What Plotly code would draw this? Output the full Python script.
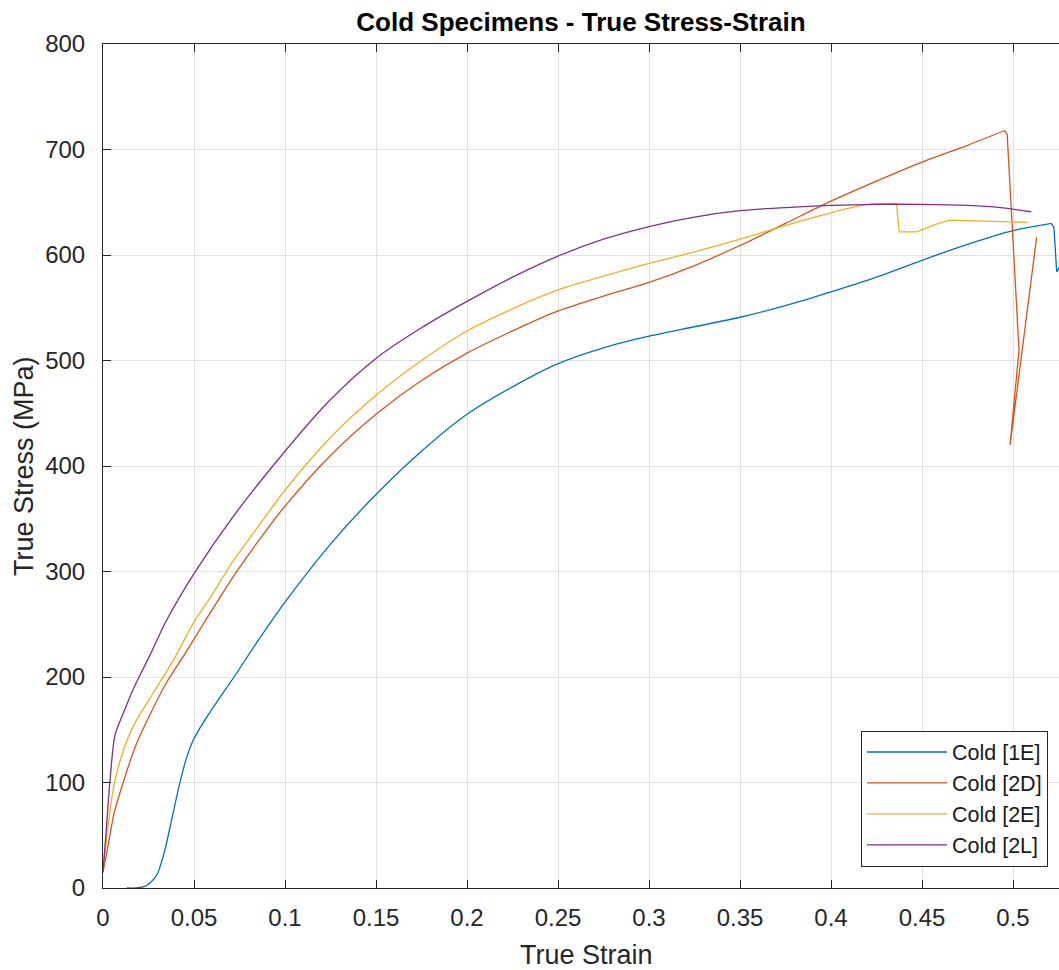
import plotly.graph_objects as go

# ---- data ----
strain_1E = [0.013, 0.018, 0.022, 0.026, 0.030, 0.034, 0.038, 0.042, 0.046, 0.049, 0.052, 0.057,
             0.064, 0.072, 0.085, 0.1, 0.125, 0.15, 0.175, 0.2, 0.225, 0.25, 0.275, 0.3, 0.325,
             0.35, 0.375, 0.4, 0.425, 0.45, 0.475, 0.5, 0.515, 0.521, 0.5225, 0.524, 0.526]
stress_1E = [0, 0, 1, 5, 14, 36, 67, 98, 124, 138, 148, 162,
             180, 200, 234, 271, 326, 373, 414, 449, 475, 497, 512, 523, 532,
             541, 552, 565, 579, 595, 610, 623, 628, 630, 626, 584, 590]

strain_2D = [0, 0.003, 0.006, 0.012, 0.018, 0.026, 0.035, 0.045, 0.055, 0.0715, 0.085, 0.1,
             0.125, 0.15, 0.175, 0.2, 0.225, 0.25, 0.275, 0.3, 0.325, 0.35, 0.375, 0.4, 0.425,
             0.45, 0.475, 0.4955, 0.4968, 0.5033, 0.4984, 0.513]
stress_2D = [15, 42, 70, 105, 135, 165, 195, 222, 250, 295, 328, 362,
             410, 449, 481, 507, 528, 547, 561, 574, 590, 609, 630, 651, 670,
             688, 704, 718, 714, 510, 420, 617]

strain_2E = [0, 0.003, 0.006, 0.01, 0.0165, 0.028, 0.039, 0.05, 0.06, 0.0715, 0.085, 0.1,
             0.125, 0.15, 0.175, 0.2, 0.225, 0.25, 0.275, 0.3, 0.325, 0.35, 0.375, 0.4, 0.42,
             0.436, 0.4375, 0.447, 0.456, 0.465, 0.49, 0.508]
stress_2E = [15, 62, 97, 124, 153, 186, 217, 252, 278, 310, 342, 377,
             427, 467, 500, 528, 549, 567, 580, 592, 603, 615, 628, 640, 648,
             649, 622, 622, 628, 633, 632, 631]

strain_2L = [0, 0.002, 0.004, 0.0066, 0.011, 0.0165, 0.0256, 0.035, 0.05, 0.0715, 0.1, 0.125,
             0.15, 0.175, 0.2, 0.225, 0.25, 0.275, 0.3, 0.325, 0.35, 0.375, 0.4, 0.425, 0.45,
             0.475, 0.493, 0.51]
stress_2L = [15, 60, 105, 145, 165, 188, 220, 254, 298, 352, 414, 463,
             502, 531, 556, 579, 599, 615, 627, 636, 642, 645, 647, 648, 648,
             647, 645, 641]

series_names = ["Cold [1E]", "Cold [2D]", "Cold [2E]", "Cold [2L]"]
series_x = [strain_1E, strain_2D, strain_2E, strain_2L]
series_y = [stress_1E, stress_2D, stress_2E, stress_2L]
# index where the smooth hardening part ends and the abrupt tail starts
smooth_end = [32, 27, 25, len(strain_2L) - 1]
colors = ["#0072BD", "#D95319", "#EDB120", "#7E2F8E"]

x_ticks = [0, 0.05, 0.1, 0.15, 0.2, 0.25, 0.3, 0.35, 0.4, 0.45, 0.5]
y_ticks = [0, 100, 200, 300, 400, 500, 600, 700, 800]

# ---- figure ----
W, H = 1059, 970
ML, MR, MT, MB = 103, 0, 44, 82
plot_w = W - ML - MR
plot_h = H - MT - MB

fig = go.Figure()
for nm, xs, ys, c, k in zip(series_names, series_x, series_y, colors, smooth_end):
    fig.add_trace(go.Scatter(x=xs[:k + 1], y=ys[:k + 1], mode="lines", name=nm,
                             legendgroup=nm,
                             line=dict(color=c, width=1.3, shape="spline", smoothing=0.8)))
    if k < len(xs) - 1:
        fig.add_trace(go.Scatter(x=xs[k:], y=ys[k:], mode="lines", name=nm,
                                 legendgroup=nm, showlegend=False,
                                 line=dict(color=c, width=1.3)))

font_family = "Liberation Sans, Arial, sans-serif"
axis_col = "#262626"

fig.update_layout(
    width=W, height=H,
    margin=dict(l=ML, r=MR, t=MT, b=MB, pad=0),
    paper_bgcolor="white", plot_bgcolor="white",
    font=dict(family=font_family, color=axis_col, size=24),
    showlegend=True,
    legend=dict(
        x=(1048 - ML) / plot_w, y=(888.5 - 867) / plot_h,
        xanchor="right", yanchor="bottom",
        bgcolor="white", bordercolor=axis_col, borderwidth=1,
        font=dict(size=21.5, color="#1a1a1a", family=font_family),
        itemwidth=80, tracegroupgap=0, traceorder="normal",
    ),
    title=dict(text="<b>Cold Specimens - True Stress-Strain</b>",
               x=0.5, xref="paper", xanchor="center",
               y=1 - 22 / H, yref="container", yanchor="middle",
               font=dict(size=26, color="black", family=font_family)),
)

fig.update_xaxes(
    range=[0, plot_w / 1820.0],
    tickvals=x_ticks, ticktext=[("%g" % v) for v in x_ticks],
    ticks="inside", ticklen=8, tickcolor=axis_col, tickwidth=1,
    showline=True, linecolor=axis_col, linewidth=1, mirror="ticks",
    showgrid=True, gridcolor="#e1e1e1", gridwidth=1,
    zeroline=False, tickfont=dict(size=24, color=axis_col),
    ticklabelstandoff=8,
)
fig.update_yaxes(
    range=[0, 800],
    tickvals=y_ticks,
    ticks="inside", ticklen=8, tickcolor=axis_col, tickwidth=1,
    showline=True, linecolor=axis_col, linewidth=1, mirror=False,
    showgrid=True, gridcolor="#e1e1e1", gridwidth=1,
    zeroline=False, tickfont=dict(size=24, color=axis_col),
    ticklabelstandoff=12,
)

# axis labels
fig.add_annotation(text="True Strain", xref="paper", yref="paper",
                   x=(586 - ML) / plot_w, y=(888.5 - 955) / plot_h,
                   xanchor="center", yanchor="middle", showarrow=False,
                   font=dict(size=27, color=axis_col, family=font_family))
fig.add_annotation(text="True Stress (MPa)", xref="paper", yref="paper",
                   x=(24 - ML) / plot_w, y=0.5, textangle=-90,
                   xanchor="center", yanchor="middle", showarrow=False,
                   font=dict(size=27, color=axis_col, family=font_family))

fig.write_html("out.html")
